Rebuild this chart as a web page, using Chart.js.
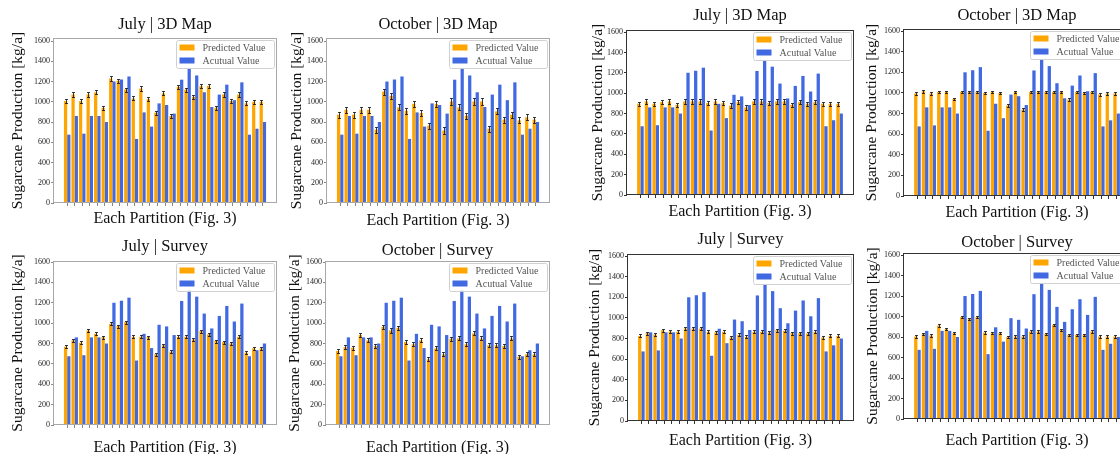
<!DOCTYPE html>
<html>
<head>
  <title>Sugarcane Production per Partition</title>
  <script src="https://cdn.jsdelivr.net/npm/chart.js"></script>
  <style>
    html, body {
      margin: 0;
      padding: 0;
      width: 1120px;
      height: 454px;
      overflow: hidden;
      background: #ffffff;
    }
    canvas {
      position: absolute;
    }
  </style>
</head>
<body>

  <canvas id="panel1"></canvas>
  <canvas id="panel2"></canvas>
  <canvas id="panel3"></canvas>
  <canvas id="panel4"></canvas>
  <canvas id="panel5"></canvas>
  <canvas id="panel6"></canvas>
  <canvas id="panel7"></canvas>
  <canvas id="panel8"></canvas>

  <script>
    // 27 partitions (Fig. 3), no tick labels on the x axis
    const partitions = [1, 2, 3, 4, 5, 6, 7, 8, 9, 10, 11, 12, 13, 14, 15, 16, 17, 18, 19, 20, 21, 22, 23, 24, 25, 26, 27];
    const yTicks = [0, 200, 400, 600, 800, 1000, 1200, 1400, 1600];

    // measured production, same in every panel
    const actualValue = [675, 860, 685, 860, 860, 800, 1200, 1220, 1250, 633, 895, 755, 984, 968, 883,
                         1218, 1325, 1260, 1094, 948, 1071, 1169, 1016, 1192, 675, 734, 800];

    // left figure
    const predJuly3DLeft = [1007, 1072, 1007, 1072, 1092, 941, 1230, 1207, 1121, 1033, 1131, 1026, 892, 1082,
                            859, 1148, 1121, 1049, 1154, 1157, 941, 1072, 1007, 1072, 984, 1000, 1000];
    const predOct3DLeft = [872, 921, 872, 921, 921, 725, 1101, 1059, 944, 912, 980, 889, 765, 977,
                           716, 1003, 944, 863, 1003, 1003, 735, 905, 824, 872, 817, 846, 824];
    const predJulySurveyLeft = [769, 831, 808, 928, 896, 863, 993, 971, 1010, 866, 866, 863, 694, 782,
                                720, 866, 866, 840, 922, 889, 824, 814, 801, 866, 710, 752, 752];
    const predOctSurveyLeft = [726, 765, 759, 883, 831, 775, 964, 928, 954, 814, 792, 831, 645, 752,
                               694, 847, 850, 792, 899, 850, 782, 782, 775, 850, 671, 694, 694];

    // right figure
    const predJuly3DRight = [896, 919, 896, 912, 919, 886, 919, 919, 919, 903, 919, 903, 877, 912,
                             860, 919, 919, 903, 919, 919, 886, 912, 896, 912, 896, 896, 896];
    const predOct3DRight = [994, 1016, 994, 1010, 1010, 942, 1010, 1010, 1010, 1000, 1010, 1000, 877, 1010,
                            838, 1010, 1010, 1010, 1010, 1010, 935, 1010, 1000, 1010, 984, 994, 994];
    const predJulySurveyRight = [826, 852, 839, 881, 868, 865, 897, 897, 897, 865, 859, 865, 810, 836,
                                 817, 865, 865, 859, 881, 875, 852, 852, 849, 865, 810, 826, 826];
    const predOctSurveyRight = [805, 828, 815, 912, 877, 838, 994, 977, 994, 844, 838, 838, 799, 805,
                                805, 854, 854, 831, 919, 870, 821, 821, 821, 854, 805, 805, 805];

    const SERIF = '"Liberation Serif", "Times New Roman", serif';

    const panels = [
      { id: 'panel1', title: 'July | 3D Map', pred: predJuly3DLeft, err: 20, yMax: 1630,
        box: [54, 38, 276, 203], titleY: 25, yTitleX: 18, xTitleY: 218, frame: '#a8a8a8', tick: '#888' },
      { id: 'panel2', title: 'October | 3D Map', pred: predOct3DLeft, err: 30, yMax: 1630,
        box: [327, 38, 549, 203], titleY: 25, yTitleX: 297, xTitleY: 220, frame: '#a8a8a8', tick: '#888' },
      { id: 'panel3', title: 'July | Survey', pred: predJulySurveyLeft, err: 15, yMax: 1610,
        box: [54, 261, 276, 425], titleY: 247, yTitleX: 18, xTitleY: 447, frame: '#a8a8a8', tick: '#888' },
      { id: 'panel4', title: 'October | Survey', pred: predOctSurveyLeft, err: 20, yMax: 1610,
        box: [326, 261, 549, 425], titleY: 251, yTitleX: 295, xTitleY: 447, frame: '#a8a8a8', tick: '#888' },
      { id: 'panel5', title: 'July | 3D Map', pred: predJuly3DRight, err: 22, yMax: 1620,
        box: [627, 30, 853, 195], titleY: 16, yTitleX: 598, xTitleY: 211, frame: '#333', tick: '#333' },
      { id: 'panel6', title: 'October | 3D Map', pred: predOct3DRight, err: 12, yMax: 1620,
        box: [904, 29, 1130, 196], titleY: 16, yTitleX: 872, xTitleY: 212, frame: '#333', tick: '#333' },
      { id: 'panel7', title: 'July | Survey', pred: predJulySurveyRight, err: 15, yMax: 1620,
        box: [628, 254, 853, 421], titleY: 240, yTitleX: 595, xTitleY: 440, frame: '#333', tick: '#333' },
      { id: 'panel8', title: 'October | Survey', pred: predOctSurveyRight, err: 12, yMax: 1620,
        box: [904, 253, 1130, 419], titleY: 243, yTitleX: 873, xTitleY: 440, frame: '#333', tick: '#333' },
    ];

    // error bars, axes frame and an in-plot legend (top right)
    const panelDecor = {
      id: 'panelDecor',
      afterDatasetsDraw(chart, args, opts) {
        const { ctx, chartArea: a, scales: { y } } = chart;

        ctx.save();
        ctx.strokeStyle = 'rgba(25, 25, 25, 0.85)';
        ctx.lineWidth = 1;
        const pred = chart.data.datasets[0].data;
        chart.getDatasetMeta(0).data.forEach((bar, i) => {
          const v = pred[i].y;
          const x = Math.round(bar.x) + 0.5;
          const y1 = Math.round(y.getPixelForValue(v + opts.err)) + 0.5;
          const y2 = Math.round(y.getPixelForValue(v - opts.err)) + 0.5;
          ctx.beginPath();
          ctx.moveTo(x, y1); ctx.lineTo(x, y2);
          ctx.moveTo(x - 1.5, y1); ctx.lineTo(x + 1.5, y1);
          ctx.moveTo(x - 1.5, y2); ctx.lineTo(x + 1.5, y2);
          ctx.stroke();
        });

        ctx.strokeStyle = opts.frame;
        ctx.strokeRect(Math.round(a.left) - 0.5, Math.round(a.top) + 0.5,
                       Math.round(a.width) + 1, Math.round(a.height) - 1);

        const w = 98, h = 28;
        const bx = Math.round(a.right) - 2 - w + 0.5;
        const by = Math.round(a.top) + 2 + 0.5;
        ctx.fillStyle = 'rgba(255, 255, 255, 0.85)';
        ctx.strokeStyle = '#d0d0d0';
        ctx.beginPath();
        ctx.roundRect(bx, by, w, h, 2);
        ctx.fill();
        ctx.stroke();

        ctx.font = '10px ' + SERIF;
        ctx.textBaseline = 'middle';
        chart.data.datasets.forEach((ds, i) => {
          const cy = by + 7 + i * 13;
          ctx.fillStyle = ds.backgroundColor;
          ctx.fillRect(bx + 3, cy - 3, 15, 6);
          ctx.fillStyle = '#555';
          ctx.fillText(ds.label, bx + 26, cy + 0.5);
        });
        ctx.restore();
      }
    };

    function drawPanel(p) {
      const [L, T, R, B] = p.box;
      const left = Math.round(p.yTitleX - 9.3);
      const top = Math.round(p.titleY - 9.9);
      const bottom = Math.round(p.xTitleY + 9.6);
      const right = R + 3;

      const canvas = document.getElementById(p.id);
      canvas.width = right - left;
      canvas.height = bottom - top;
      canvas.style.left = left + 'px';
      canvas.style.top = top + 'px';
      canvas.style.width = (right - left) + 'px';
      canvas.style.height = (bottom - top) + 'px';

      const yAxisWidth = L - left;
      const xAxisHeight = bottom - B;
      const titleGap = T - top - 16.5 * 1.2;

      new Chart(canvas, {
        type: 'bar',
        data: {
          datasets: [
            {
              label: 'Predicted Value',
              data: partitions.map((_, i) => ({ x: i, y: p.pred[i] })),
              backgroundColor: '#FFA500',
              categoryPercentage: 0.86,
              barPercentage: 1.0,
            },
            {
              label: 'Acutual Value',
              data: partitions.map((_, i) => ({ x: i, y: actualValue[i] })),
              backgroundColor: '#4169E1',
              categoryPercentage: 0.86,
              barPercentage: 1.0,
            },
          ],
        },
        options: {
          responsive: false,
          animation: false,
          layout: { padding: { left: 0, top: 0, right: 3, bottom: 0 } },
          plugins: {
            legend: { display: false },
            tooltip: { enabled: false },
            title: {
              display: true,
              text: p.title,
              fullSize: false,
              color: '#111',
              font: { family: SERIF, size: 16.5, weight: 'normal' },
              padding: { top: 0, bottom: titleGap },
            },
            panelDecor: { err: p.err, frame: p.frame },
          },
          scales: {
            x: {
              type: 'linear',
              min: -1.75,
              max: 27.75,
              offset: false,
              afterBuildTicks: (s) => { s.ticks = partitions.map((_, i) => ({ value: i })); },
              afterFit: (s) => { s.height = xAxisHeight; },
              ticks: { callback: () => '', padding: 0, font: { size: 1 } },
              grid: { display: true, drawOnChartArea: false, drawTicks: true, tickLength: 3, color: p.tick, offset: false },
              border: { display: false },
              title: {
                display: true,
                text: 'Each Partition (Fig. 3)',
                color: '#111',
                font: { family: SERIF, size: 16 },
                padding: 0,
              },
            },
            y: {
              min: 0,
              max: p.yMax,
              afterBuildTicks: (s) => { s.ticks = yTicks.map((v) => ({ value: v })); },
              afterFit: (s) => { s.width = yAxisWidth; },
              ticks: { callback: (v) => String(v), color: '#222', padding: 1, font: { family: SERIF, size: 8 } },
              grid: { display: true, drawOnChartArea: false, drawTicks: true, tickLength: 3, color: p.tick },
              border: { display: false },
              title: {
                display: true,
                text: 'Sugarcane Production [kg/a]',
                color: '#111',
                font: { family: SERIF, size: 15.5 },
                padding: 0,
              },
            },
          },
        },
        plugins: [panelDecor],
      });
    }

    panels.forEach(drawPanel);
  </script>
</body>
</html>
